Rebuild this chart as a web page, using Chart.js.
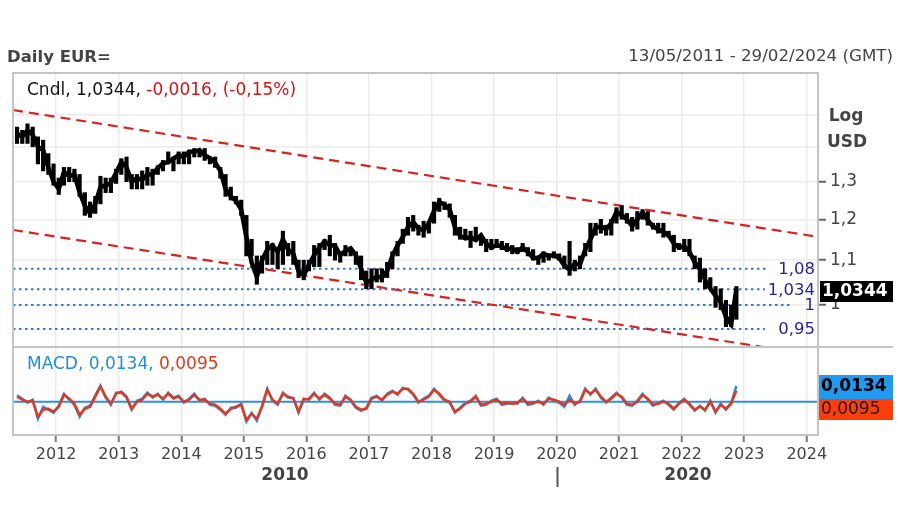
<!DOCTYPE html>
<html><head><meta charset="utf-8">
<script src="https://cdn.jsdelivr.net/npm/chart.js@4.4.0/dist/chart.umd.min.js"></script>
<style>html,body{margin:0;padding:0;background:#fff;}#wrap{position:relative;width:900px;height:506px;}</style>
</head><body><div id="wrap"><canvas id="c" width="900" height="506"></canvas></div>
<script>
const months = ['2011-05','2011-06','2011-07','2011-08','2011-09','2011-10','2011-11','2011-12',
'2012-01','2012-02','2012-03','2012-04','2012-05','2012-06','2012-07','2012-08','2012-09','2012-10','2012-11','2012-12',
'2013-01','2013-02','2013-03','2013-04','2013-05','2013-06','2013-07','2013-08','2013-09','2013-10','2013-11','2013-12',
'2014-01','2014-02','2014-03','2014-04','2014-05','2014-06','2014-07','2014-08','2014-09','2014-10','2014-11','2014-12',
'2015-01','2015-02','2015-03','2015-04','2015-05','2015-06','2015-07','2015-08','2015-09','2015-10','2015-11','2015-12',
'2016-01','2016-02','2016-03','2016-04','2016-05','2016-06','2016-07','2016-08','2016-09','2016-10','2016-11','2016-12',
'2017-01','2017-02','2017-03','2017-04','2017-05','2017-06','2017-07','2017-08','2017-09','2017-10','2017-11','2017-12',
'2018-01','2018-02','2018-03','2018-04','2018-05','2018-06','2018-07','2018-08','2018-09','2018-10','2018-11','2018-12',
'2019-01','2019-02','2019-03','2019-04','2019-05','2019-06','2019-07','2019-08','2019-09','2019-10','2019-11','2019-12',
'2020-01','2020-02','2020-03','2020-04','2020-05','2020-06','2020-07','2020-08','2020-09','2020-10','2020-11','2020-12',
'2021-01','2021-02','2021-03','2021-04','2021-05','2021-06','2021-07','2021-08','2021-09','2021-10','2021-11','2021-12',
'2022-01','2022-02','2022-03','2022-04','2022-05','2022-06','2022-07','2022-08','2022-09','2022-10','2022-11'];

const closes = [1.44,1.43,1.45,1.436,1.40,1.39,1.34,1.30,
1.28,1.327,1.315,1.32,1.27,1.235,1.215,1.24,1.285,1.29,1.296,1.325,
1.355,1.34,1.30,1.31,1.305,1.32,1.32,1.338,1.352,1.355,1.365,1.375,
1.37,1.385,1.385,1.39,1.375,1.367,1.354,1.33,1.28,1.26,1.248,1.225,
1.155,1.095,1.062,1.10,1.125,1.135,1.12,1.15,1.125,1.115,1.075,1.065,
1.09,1.112,1.13,1.145,1.136,1.134,1.112,1.122,1.128,1.112,1.08,1.048,
1.055,1.062,1.06,1.075,1.11,1.135,1.155,1.18,1.193,1.177,1.172,1.19,
1.222,1.245,1.238,1.225,1.18,1.158,1.152,1.155,1.148,1.16,1.14,1.13,
1.136,1.132,1.126,1.128,1.12,1.13,1.119,1.105,1.105,1.115,1.11,1.112,
1.105,1.088,1.078,1.092,1.09,1.125,1.15,1.178,1.182,1.175,1.19,1.219,
1.21,1.2,1.183,1.2,1.217,1.198,1.182,1.175,1.168,1.16,1.14,1.13,
1.133,1.12,1.095,1.08,1.055,1.035,1.02,1.005,0.975,0.96,1.0344];

const highs = [1.46,1.45,1.47,1.46,1.43,1.42,1.38,1.35,
1.31,1.34,1.34,1.335,1.32,1.27,1.245,1.26,1.315,1.31,1.31,1.335,
1.365,1.37,1.32,1.32,1.33,1.34,1.335,1.345,1.36,1.385,1.37,1.385,
1.385,1.39,1.395,1.39,1.395,1.37,1.37,1.34,1.32,1.285,1.26,1.25,
1.21,1.15,1.11,1.11,1.145,1.14,1.125,1.17,1.14,1.145,1.10,1.10,
1.10,1.135,1.14,1.15,1.16,1.14,1.12,1.135,1.13,1.12,1.11,1.075,
1.08,1.08,1.08,1.095,1.12,1.145,1.175,1.205,1.21,1.185,1.195,1.195,
1.245,1.255,1.245,1.24,1.21,1.18,1.175,1.17,1.18,1.16,1.15,1.15,
1.15,1.145,1.14,1.135,1.13,1.14,1.13,1.125,1.11,1.12,1.115,1.12,
1.115,1.11,1.145,1.10,1.11,1.14,1.19,1.19,1.20,1.185,1.20,1.23,
1.235,1.215,1.205,1.22,1.225,1.22,1.19,1.19,1.19,1.17,1.16,1.14,
1.15,1.15,1.11,1.105,1.08,1.06,1.04,1.035,1.01,1.0,1.04];

const lows = [1.41,1.41,1.41,1.40,1.35,1.33,1.32,1.29,
1.265,1.29,1.30,1.30,1.26,1.21,1.205,1.215,1.24,1.27,1.27,1.295,
1.32,1.30,1.28,1.28,1.28,1.29,1.29,1.32,1.33,1.35,1.33,1.35,
1.35,1.35,1.37,1.37,1.36,1.35,1.34,1.31,1.26,1.25,1.24,1.21,
1.11,1.11,1.045,1.07,1.09,1.09,1.08,1.09,1.11,1.09,1.06,1.055,
1.075,1.085,1.085,1.125,1.11,1.10,1.095,1.11,1.11,1.09,1.055,1.035,
1.035,1.05,1.05,1.06,1.08,1.11,1.14,1.16,1.17,1.16,1.155,1.165,
1.19,1.22,1.225,1.205,1.16,1.15,1.155,1.13,1.145,1.135,1.12,1.125,
1.13,1.125,1.12,1.115,1.115,1.12,1.11,1.10,1.09,1.095,1.10,1.105,
1.10,1.08,1.065,1.075,1.08,1.11,1.12,1.16,1.165,1.16,1.16,1.19,
1.20,1.19,1.17,1.175,1.20,1.185,1.175,1.165,1.155,1.155,1.12,1.125,
1.12,1.11,1.08,1.05,1.035,1.035,0.995,0.99,0.955,0.955,0.97];

const signalLine = [0.0043,0.0017,0,0.0009,-0.0128,-0.0068,-0.006,-0.0085,-0.0043,0.006,
0.0026,-0.0017,-0.0111,-0.006,-0.0043,0.0043,0.0128,0.0043,-0.0017,0.0068,
0.0085,0.0043,-0.006,0,0.0017,0.0068,0.0043,0.006,0.0026,0.0068,
0.0026,0.0043,0,0.0017,0.006,0.0017,0.0017,-0.0017,-0.0026,-0.006,
-0.0102,-0.006,-0.0043,-0.0026,-0.0153,-0.0102,-0.0145,-0.0043,0.0102,0.0017,
-0.0017,0.0068,0.0043,0.0026,-0.0085,0.0026,0.0017,0.0068,0.0026,0.006,
0.0026,-0.0017,-0.0026,0.0043,0.0017,-0.0043,-0.0068,-0.006,0.0026,0.0043,
0.0017,0.006,0.0085,0.0068,0.0111,0.0111,0.0068,0,0.0017,0.0043,
0.0102,0.0068,0.0017,0,-0.0085,-0.006,-0.0017,0,0.0043,-0.0026,
-0.0017,0,0.0017,-0.0017,-0.0009,-0.0017,-0.0009,0.0026,-0.0017,-0.0009,
0,-0.0017,0.0026,0.0017,0,-0.0026,0.0017,-0.0017,0,0.0102,
0.0068,0.0102,0.0043,0,0.0026,0.0068,0.0043,-0.0017,-0.0026,0,
0.006,0.0026,-0.0026,-0.0017,0,-0.0017,-0.006,-0.0017,0.0017,-0.0017,
-0.0068,-0.0043,-0.0068,0,-0.0085,-0.0026,-0.006,-0.0017,0.0095];

const macdLine = [0.0055,0.0026,-0.0009,0.0017,-0.0145,-0.0043,-0.0068,-0.0094,-0.0034,0.0068,
0.0017,-0.0026,-0.0128,-0.0051,-0.0034,0.0055,0.0136,0.0034,-0.0026,0.0077,
0.0077,0.0034,-0.0068,0.0009,0.0026,0.0077,0.0034,0.0068,0.0017,0.0077,
0.0034,0.0051,-0.0009,0.0026,0.0068,0.0009,0.0026,-0.0026,-0.0034,-0.0068,
-0.0111,-0.0051,-0.0051,-0.0017,-0.017,-0.0094,-0.0162,-0.0034,0.0111,0.0009,
-0.0026,0.0077,0.0034,0.0034,-0.0094,0.0017,0.0026,0.0077,0.0017,0.0068,
0.0034,-0.0026,-0.0034,0.0051,0.0009,-0.0051,-0.0077,-0.0051,0.0034,0.0051,
0.0009,0.0068,0.0094,0.006,0.0119,0.0102,0.006,-0.0009,0.0026,0.0051,
0.0111,0.006,0.0009,-0.0009,-0.0094,-0.0051,-0.0009,0.0009,0.0051,-0.0034,
-0.0026,0.0009,0.0026,-0.0026,-0.0017,-0.0009,-0.0017,0.0034,-0.0026,-0.0017,
0.0009,-0.0026,0.0034,0.0009,-0.0009,-0.0043,0.0051,-0.0026,0.0009,0.0111,
0.006,0.0111,0.0034,-0.0009,0.0034,0.0077,0.0034,-0.0026,-0.0034,0.0009,
0.0068,0.0017,-0.0034,-0.0009,0.0009,-0.0026,-0.0068,-0.0009,0.0026,-0.0026,
-0.0077,-0.0034,-0.0077,0.0009,-0.0094,-0.0017,-0.0068,-0.0009,0.0134];

const xRange = [2011.31, 2024.18];
const xTickYears = [2012,2013,2014,2015,2016,2017,2018,2019,2020,2021,2022,2023,2024];
const priceRange = [0.9145, 1.638];
const macdRange = [-0.0283, 0.0465];
const priceGridValues = [1, 1.1, 1.2, 1.3, 1.4, 1.5];
const priceTickLabels = ['1', '1,1', '1,2', '1,3', '', ''];
const levelValues = [1.08, 1.034, 1, 0.95];
const levelLabels = ['1,08', '1,034', '1', '0,95'];
const levelEnds = [2023.36, 2023.33, 2023.78, 2023.33];
const channelX = [2011.31, 2024.18];
const channelUpper = [1.514, 1.156];
const channelLowerX = [2011.31, 2023.30];
const channelLower = [1.173, 0.9145];

const FONT = 'DejaVu Sans';
Chart.defaults.font.family = FONT;

function toYear(m){ const p = m.split('-').map(Number); return p[0] + (p[1]-0.5)/12; }
const pts = (arr) => months.map((m,i)=>({x: toYear(m), y: arr[i]}));

const datasets = [
  {type:'bar', data: months.map((m,i)=>({x: toYear(m), y:[lows[i], highs[i]]})), yAxisID:'y', backgroundColor:'#000', barThickness:3.5, order:0},
  {data: pts(closes), yAxisID:'y', borderColor:'#000', borderWidth:4.5, pointRadius:0, tension:0, order:0},
  {data: pts(signalLine), yAxisID:'y2', borderColor:'#e4381c', borderWidth:2.5, pointRadius:0, tension:0, order:1},
  {data: pts(macdLine), yAxisID:'y2', borderColor:'#2a8fe4', borderWidth:2.5, pointRadius:0, tension:0, order:2},
  {data: [{x:channelX[0],y:channelUpper[0]},{x:channelX[1],y:channelUpper[1]}], yAxisID:'y', borderColor:'#dc2020', borderWidth:2.2, borderDash:[10,6], pointRadius:0, order:3},
  {data: [{x:channelLowerX[0],y:channelLower[0]},{x:channelLowerX[1],y:channelLower[1]}], yAxisID:'y', borderColor:'#dc2020', borderWidth:2.2, borderDash:[10,6], pointRadius:0, order:3}
];
levelValues.forEach((v,i)=>{
  datasets.push({data:[{x:xRange[0],y:v},{x:levelEnds[i],y:v}], yAxisID:'y', borderColor:'#2f7ad6', borderWidth:2, borderDash:[2.5,3.5], pointRadius:0, order:4});
});

const overlay = {
  id:'overlay',
  beforeDatasetsDraw(chart){
    const ctx = chart.ctx, ca = chart.chartArea, y2 = chart.scales.y2;
    const zy = y2.getPixelForValue(0);
    ctx.save(); ctx.strokeStyle='#2a8fe4'; ctx.lineWidth=2;
    ctx.beginPath(); ctx.moveTo(ca.left, zy); ctx.lineTo(ca.right, zy); ctx.stroke(); ctx.restore();
  },
  afterDraw(chart){
    const ctx = chart.ctx, ca = chart.chartArea, yP = chart.scales.y;
    ctx.save();
    ctx.strokeStyle = '#c4c4c4'; ctx.lineWidth = 2;
    ctx.strokeRect(ca.left, ca.top, ca.right-ca.left, ca.bottom-ca.top);
    ctx.beginPath(); ctx.moveTo(ca.left, yP.bottom); ctx.lineTo(893, yP.bottom); ctx.stroke();
    ctx.textBaseline = 'middle';
    ctx.fillStyle = '#444'; ctx.textAlign = 'left';
    ctx.font = 'bold 16.5px ' + FONT; ctx.fillText('Daily EUR=', 7, 58);
    ctx.font = '16.7px ' + FONT; ctx.textAlign = 'right';
    ctx.fillText('13/05/2011 - 29/02/2024 (GMT)', 893, 57);
    ctx.textAlign = 'left'; ctx.font = '17px ' + FONT;
    let t1 = 'Cndl, 1,0344, ';
    ctx.fillStyle = '#111'; ctx.fillText(t1, 27, 91);
    ctx.fillStyle = '#d41414'; ctx.fillText('-0,0016, (-0,15%)', 27 + ctx.measureText(t1).width, 91);
    ctx.fillStyle = '#444'; ctx.font = 'bold 17px ' + FONT; ctx.textAlign = 'center';
    ctx.fillText('Log', 846, 117); ctx.fillText('USD', 847, 143);
    ctx.font = '16.5px ' + FONT; ctx.textAlign = 'right'; ctx.fillStyle = '#2323a8';
    levelValues.forEach((v,i)=>{ ctx.fillText(levelLabels[i], 815, yP.getPixelForValue(v) + 1); });
    ctx.fillStyle = '#000'; ctx.fillRect(820, 281, 73, 21);
    ctx.fillStyle = '#fff'; ctx.font = 'bold 17px ' + FONT; ctx.textAlign = 'left';
    ctx.fillText('1,0344', 822, 292);
    ctx.font = '17px ' + FONT;
    let t2 = 'MACD, 0,0134, ';
    ctx.fillStyle = '#1f8ee0'; ctx.fillText(t2, 27, 365);
    ctx.fillStyle = '#e4381c'; ctx.fillText('0,0095', 27 + ctx.measureText(t2).width, 365);
    ctx.fillStyle = '#666'; ctx.font = 'bold 17px ' + FONT; ctx.textAlign = 'center';
    ctx.fillText('USD', 847, 416);
    ctx.fillStyle = '#1e9af0'; ctx.fillRect(819, 375, 74, 24);
    ctx.fillStyle = '#ff3d0a'; ctx.fillRect(819, 399, 74, 21);
    ctx.textAlign = 'left';
    ctx.fillStyle = '#000'; ctx.font = 'bold 17px ' + FONT; ctx.fillText('0,0134', 821, 387);
    ctx.fillStyle = '#1a1a1a'; ctx.font = '17px ' + FONT; ctx.fillText('0,0095', 821, 410);
    ctx.fillStyle = '#444'; ctx.font = 'bold 17px ' + FONT; ctx.textAlign = 'center';
    ctx.fillText('2010', 285, 476); ctx.fillText('2020', 688, 476);
    ctx.strokeStyle = '#555'; ctx.lineWidth = 2;
    ctx.beginPath(); ctx.moveTo(557.5, 467); ctx.lineTo(557.5, 487); ctx.stroke();
    ctx.restore();
  }
};

new Chart(document.getElementById('c'), {
  type:'line',
  data:{datasets},
  plugins:[overlay],
  options:{
    responsive:false, animation:false,
    layout:{padding:{left:13, top:73, right:0, bottom:0}},
    plugins:{legend:{display:false}, tooltip:{enabled:false}},
    scales:{
      x:{type:'linear', min:xRange[0], max:xRange[1], bounds:'data', offset:false,
        afterBuildTicks:s=>{ s.ticks = xTickYears.map(v=>({value:v})); },
        afterFit:s=>{ s.height = 71; },
        ticks:{callback:v=>String(v), autoSkip:false, maxRotation:0, color:'#444', font:{size:16}, padding:3},
        grid:{color:'#ebebeb', lineWidth:1.5, tickColor:'#777', tickLength:7, tickWidth:2, offset:false},
        border:{display:false}},
      y:{type:'logarithmic', position:'right', stack:'panels', stackWeight:274, min:priceRange[0], max:priceRange[1], bounds:'data',
        afterBuildTicks:s=>{ s.ticks = priceGridValues.map(v=>({value:v})); },
        afterFit:s=>{ s.width = 82; },
        ticks:{callback:(v,i)=>priceTickLabels[i], autoSkip:false, color:'#444', font:{size:17}, padding:4},
        grid:{color:'#ececec', lineWidth:1.5, tickLength:8, tickWidth:2,
          tickColor:ctx=> (ctx.tick && ctx.tick.value > 1.35) ? 'rgba(0,0,0,0)' : '#666'},
        border:{display:false}},
      y2:{type:'linear', position:'right', stack:'panels', stackWeight:88, min:macdRange[0], max:macdRange[1], bounds:'data',
        afterFit:s=>{ s.width = 82; },
        ticks:{display:false}, grid:{display:false}, border:{display:false}}
    }
  }
});
</script></body></html>
